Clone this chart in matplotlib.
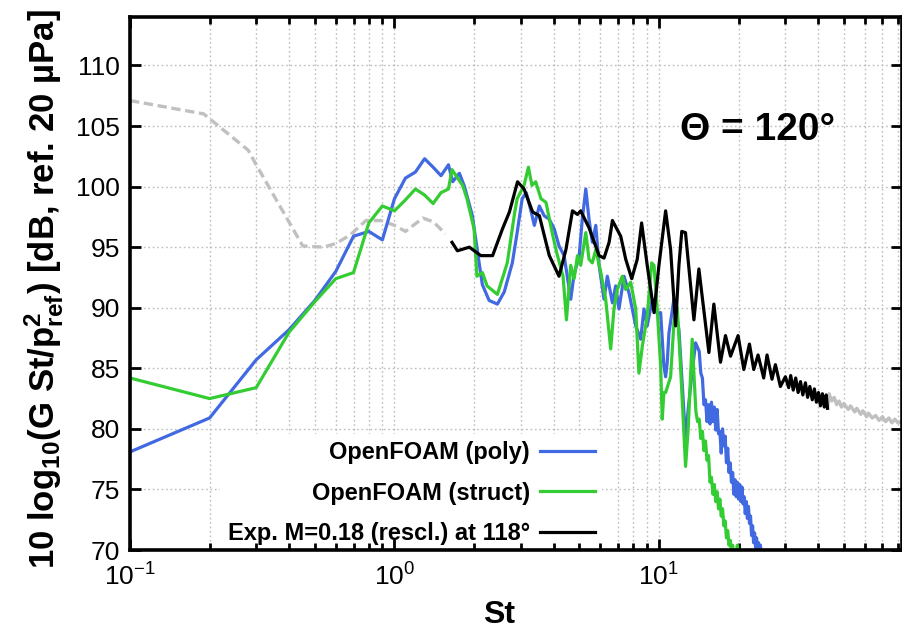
import matplotlib
matplotlib.use("Agg")
import matplotlib.pyplot as plt

plt.rcParams['font.family'] = ['Liberation Sans', 'DejaVu Sans']
plt.rcParams['mathtext.fontset'] = 'custom'
plt.rcParams['mathtext.rm'] = 'Liberation Sans'
plt.rcParams['mathtext.it'] = 'Liberation Sans:italic'
plt.rcParams['mathtext.bf'] = 'Liberation Sans:bold'

# ---------------- data ----------------
# OpenFOAM, polyhedral mesh
st_poly = [0.1, 0.2, 0.3, 0.4, 0.5, 0.6, 0.7, 0.8, 0.9, 1.0, 1.1, 1.2, 1.3, 1.4, 1.5,
           1.6, 1.66, 1.76, 1.84, 1.97, 2.09, 2.15, 2.28, 2.45, 2.6, 2.79, 2.91, 3.04,
           3.15, 3.29, 3.38, 3.53, 3.68, 3.85, 4.02, 4.19, 4.38, 4.64, 4.78, 4.99, 5.13,
           5.29, 5.44, 5.6, 5.77, 5.94, 6.2, 6.38, 6.67, 6.86, 7.06, 7.38, 7.71, 7.93,
           8.17, 8.53, 8.78, 9.03, 9.44, 9.85, 10.15, 10.44, 10.6, 10.75, 10.91, 11.39,
           11.9, 12.24, 12.61, 12.9, 13.29, 13.76, 14.2, 14.4, 14.6, 14.8, 15.0, 15.2,
           15.4, 15.6, 15.8, 16.0, 16.2, 16.4, 16.6, 16.8, 17.0, 17.2, 17.4, 17.6, 17.8,
           18.0, 18.2, 18.4, 18.6, 18.8, 19.0, 19.2, 19.4, 19.6, 19.8, 20.0, 20.2, 20.4,
           20.6, 20.8, 21.0, 21.2, 21.4, 21.6, 21.8, 22.0, 22.2, 22.4, 22.6, 22.8, 23.0,
           23.2, 23.4, 23.6, 23.8, 24.0, 24.2, 24.4, 24.6]
lp_poly = [78.1, 80.9, 85.7, 88.2, 90.6, 93.0, 95.9, 96.3, 95.6, 99.0, 100.7, 101.2, 102.3, 101.6, 100.9,
           101.8, 100.4, 101.1, 100.0, 97.6, 93.7, 91.9, 90.6, 90.3, 91.3, 93.7, 96.2, 99.0,
           99.5, 97.9, 96.8, 98.4, 97.6, 97.3, 96.5, 95.1, 94.3, 90.7, 92.8, 94.2, 97.3,
           99.8, 97.3, 95.4, 96.8, 93.5, 90.7, 92.6, 90.4, 91.8, 89.9, 92.6, 91.2, 89.9,
           88.5, 87.4, 89.9, 88.5, 90.7, 89.5, 89.6, 85.2, 84.3, 85.5, 87.9, 90.7,
           88.2, 83.8, 79.1, 81.6, 84.3, 87.1, 86.4, 84.6, 84.2, 82.0, 82.4, 80.6,
           82.0, 80.4, 82.2, 80.6, 81.8, 79.9, 81.6, 79.6, 79.8, 78.0, 80.0, 78.6, 79.4,
           77.2, 78.4, 76.4, 77.2, 75.6, 76.4, 74.6, 75.8, 74.4, 75.6, 74.2, 75.4, 74.0,
           75.2, 73.8, 74.4, 73.0, 74.0, 72.6, 73.6, 72.2, 72.8, 71.2, 72.0, 70.6, 71.4,
           70.2, 71.0, 69.8, 70.6, 69.6, 70.4, 69.4, 69.0]

# OpenFOAM, structured mesh
st_struct = [0.1, 0.2, 0.3, 0.4, 0.5, 0.6, 0.7, 0.8, 0.9, 1.0, 1.1, 1.2, 1.3, 1.4, 1.5,
             1.6, 1.65, 1.81, 1.88, 2.0, 2.05, 2.15, 2.24, 2.45, 2.67, 2.85, 2.91, 3.09,
             3.21, 3.31, 3.42, 3.58, 3.74, 3.92, 4.1, 4.34, 4.47, 4.64, 4.78, 4.92, 5.06,
             5.29, 5.44, 5.6, 5.77, 6.03, 6.29, 6.57, 6.76, 6.96, 7.27, 7.49, 7.82, 8.17,
             8.4, 8.65, 9.03, 9.39, 9.58, 9.85, 10.15, 10.29, 10.44, 10.6, 11.07, 11.4,
             11.73, 12.08, 12.61, 12.9, 13.36, 13.6, 13.8, 14.0, 14.2, 14.4, 14.6, 14.8,
             15.0, 15.2, 15.4, 15.6, 15.8, 16.0, 16.2, 16.4, 16.6, 16.8, 17.0, 17.2, 17.4,
             17.6, 17.8, 18.0, 18.2, 18.4, 18.6, 18.8, 19.0, 19.2, 19.4, 19.6, 19.8, 20.0]
lp_struct = [84.2, 82.5, 83.4, 88.0, 90.5, 92.4, 92.9, 97.0, 98.4, 98.0, 98.9, 99.8, 99.3, 98.6, 99.5,
             99.8, 101.4, 100.1, 99.0, 96.5, 92.6, 92.9, 91.8, 91.1, 93.7, 97.9, 99.0, 100.1,
             101.6, 100.1, 100.4, 99.0, 98.7, 96.5, 94.6, 92.6, 89.0, 93.5, 92.4, 94.3, 93.5,
             96.2, 94.0, 93.7, 94.8, 92.9, 90.7, 86.6, 89.9, 91.5, 92.6, 91.5, 92.1, 89.9,
             84.6, 86.8, 89.3, 93.7, 93.5, 89.9, 85.2, 80.8, 83.0, 83.0, 84.3, 88.8,
             90.0, 85.0, 76.9, 80.0, 87.4, 84.0, 81.4, 80.6, 80.8, 79.2, 79.8, 78.2,
             79.0, 77.4, 77.8, 75.6, 76.0, 74.6, 75.4, 74.0, 74.8, 73.4, 74.2, 72.8, 73.4,
             72.0, 72.4, 71.0, 71.6, 70.4, 70.8, 69.8, 70.4, 69.4, 69.6, 69.8, 70.4, 69.2]

# Experiment M=0.18, rescaled to 118 deg (band shown in black)
st_exp = [1.65, 1.73, 1.92, 2.12, 2.35, 2.56, 2.72, 2.92, 3.09, 3.33, 3.53, 3.85, 4.19,
          4.45, 4.71, 4.92, 5.06, 5.44, 5.94, 6.2, 6.48, 6.67, 7.17, 7.49, 7.89, 8.28,
          8.6, 9.03, 9.58, 10.0, 10.6, 11.07, 11.56, 11.9, 12.2, 12.6, 13.56, 14.16,
          15.45, 16.13, 17.09, 17.85, 18.65, 19.92, 20.94, 21.99, 22.83, 23.7, 24.9,
          25.63, 26.76, 27.57, 28.79, 30.07, 30.95, 31.5, 32.2, 32.9, 33.6, 34.3, 35.0,
          35.8, 36.5, 37.2, 38.0, 38.7, 39.4, 40.1, 40.8, 41.5, 42.2, 42.9, 43.4]
lp_exp = [95.4, 94.7, 95.0, 94.3, 94.3, 96.5, 97.9, 100.4, 99.8, 97.9, 97.6, 94.3, 92.6,
          94.8, 98.0, 97.7, 98.0, 96.6, 94.3, 94.1, 95.4, 97.2, 95.9, 94.0, 92.4, 94.0,
          97.0, 93.5, 89.6, 93.5, 98.0, 94.8, 88.5, 93.5, 96.3, 96.2, 89.0, 93.2,
          86.3, 90.3, 85.5, 87.7, 86.0, 87.7, 84.9, 87.0, 84.9, 86.1, 84.2,
          86.1, 84.1, 85.3, 83.5, 84.3, 83.4, 84.4, 83.2, 84.2, 83.0, 83.9, 82.8,
          83.8, 82.6, 83.5, 82.4, 83.3, 82.2, 83.0, 81.9, 82.9, 81.8, 82.8, 81.7]

# Experiment outside the valid band: low-frequency (dashed) and high-frequency parts
st_exp_low = [0.1, 0.19, 0.28, 0.30, 0.45, 0.54, 0.6, 0.68, 0.78, 0.89, 1.0, 1.1, 1.28, 1.4, 1.56]
lp_exp_low = [107.1, 106.0, 103.0, 101.8, 95.1, 95.0, 95.3, 96.0, 97.2, 97.2, 96.8, 96.3, 97.4, 97.1, 96.1]
st_exp_high = [43.4, 44, 45, 46, 47, 48, 49, 50, 52, 53, 55, 56, 58, 59, 61, 62, 64, 66,
               68, 70, 72, 74, 76, 78, 80, 83]
lp_exp_high = [81.7, 82.9, 82.3, 82.6, 82.0, 82.3, 81.8, 82.1, 81.6, 81.9, 81.4, 81.7, 81.2,
               81.5, 81.0, 81.3, 80.9, 81.1, 80.7, 81.0, 80.6, 80.9, 80.5, 80.8, 80.5, 80.6]

labels = ['OpenFOAM (poly)', 'OpenFOAM (struct)', 'Exp. M=0.18 (rescl.) at 118°']
x_major = [0.1, 1.0, 10.0]
x_minor = [0.2, 0.3, 0.4, 0.5, 0.6, 0.7, 0.8, 0.9, 2, 3, 4, 5, 6, 7, 8, 9,
           20, 30, 40, 50, 60, 70, 80]
y_ticks = [70, 75, 80, 85, 90, 95, 100, 105, 110]

# ---------------- figure ----------------
c_blue = '#4169e1'
c_green = '#33cc33'
c_grey = '#c0c0c0'
lw = 2.3

fig = plt.figure(figsize=(9.03, 6.32), dpi=100)
ax = fig.add_axes([130 / 903, 82 / 632, 772 / 903, 533 / 632])
ax.set_xscale('log')
ax.set_xlim(0.1, 83)
ax.set_ylim(70, 114)

# dotted grid, kept under the key box
grid_kw = dict(color='#bdbdbd', lw=1.0, ls=(0, (1.2, 2.0)), zorder=0.5)
for xv in x_major + x_minor:
    ax.axvline(xv, **grid_kw)
for yv in y_ticks:
    ax.axhline(yv, **grid_kw)

ax.plot(st_exp_low, lp_exp_low, color=c_grey, lw=2.4, ls=(0, (2.8, 1.4)), zorder=2)
ax.plot(st_exp_high, lp_exp_high, color=c_grey, lw=2.4, zorder=2)
l1, = ax.plot(st_poly, lp_poly, color=c_blue, lw=lw, zorder=2.1, label=labels[0])
l2, = ax.plot(st_struct, lp_struct, color=c_green, lw=lw, zorder=2.2, label=labels[1])
l3, = ax.plot(st_exp, lp_exp, color='black', lw=lw, zorder=2.3, label=labels[2])

ax.set_xticks(x_major)
ax.set_xticks(x_minor, minor=True)
ax.set_xticklabels([r'$\mathdefault{10^{-1}}$', r'$\mathdefault{10^{0}}$', r'$\mathdefault{10^{1}}$'])
ax.set_yticks(y_ticks)
ax.tick_params(which='both', direction='in', top=True, right=True, width=2.0)
ax.tick_params(axis='y', labelsize=19, pad=7)
ax.tick_params(axis='x', labelsize=19, pad=10)
ax.tick_params(which='major', length=8)
ax.tick_params(which='minor', length=5)
for s in ax.spines.values():
    s.set_linewidth(2.6)

ax.set_xlabel('St', fontsize=23, fontweight='bold')
ax.xaxis.set_label_coords(0.478, -0.094)
ax.set_ylabel(r'10 log$_{\mathbf{10}}$(G St/p$^{\mathbf{2}}_{\mathbf{ref}}$) [dB, ref. 20 µPa]',
              fontsize=25, fontweight='bold')
ax.yaxis.set_label_coords(-0.083, 0.49)

ax.text(0.712, 0.769, 'Θ = 120°', transform=ax.transAxes, fontsize=28,
        fontweight='bold', ha='left', va='baseline')

leg = ax.legend(handles=[l1, l2, l3], loc='lower right', bbox_to_anchor=(0.611, -0.004),
                markerfirst=False, prop={'size': 17, 'weight': 'bold'}, frameon=True,
                facecolor='white', edgecolor='none', framealpha=1, fancybox=False,
                handlelength=2.3, handletextpad=0.45, labelspacing=0.74,
                borderpad=0.3, borderaxespad=0)
leg.set_zorder(1.0)

fig.savefig('out.png', dpi=100)
